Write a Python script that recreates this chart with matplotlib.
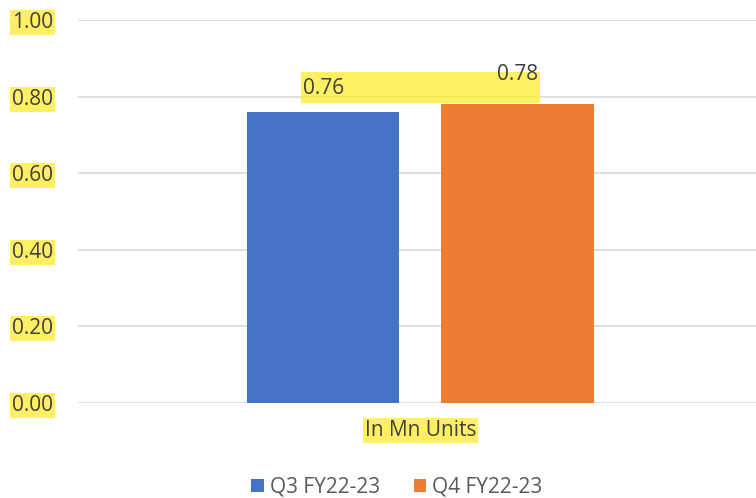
import matplotlib.pyplot as plt
from matplotlib.patches import Rectangle

categories = ["In Mn Units"]
series_names = ["Q3 FY22-23", "Q4 FY22-23"]
q3_values = [0.76]
q4_values = [0.78]
y_ticks = [0.0, 0.2, 0.4, 0.6, 0.8, 1.0]

blue = "#4472C4"
orange = "#ED7D31"
yellow = "#FFEB3B"

plt.rcParams['font.family'] = ['Open Sans', 'DejaVu Sans']

fig = plt.figure(figsize=(7.56, 4.98), dpi=100)
ax = fig.add_axes([78 / 756, 95 / 498, 678 / 756, 383 / 498])

x = list(range(len(categories)))
w = 0.45
off = 0.287
b1 = ax.bar([i - off for i in x], q3_values, w, color=blue, label=series_names[0], zorder=2)
b2 = ax.bar([i + off for i in x], q4_values, w, color=orange, label=series_names[1], zorder=2)

# one yellow highlight behind both data labels
x0 = b1[0].get_x() + b1[0].get_width() / 2 - 0.066
x1 = b2[0].get_x() + b2[0].get_width() / 2 + 0.066
ax.add_patch(Rectangle((x0, 0.783), x1 - x0, 0.082, facecolor=yellow, alpha=0.8,
                       edgecolor='none', zorder=3))
ax.text(b1[0].get_x() + b1[0].get_width() / 2, 0.822, f"{q3_values[0]:.2f}",
        ha='center', va='center', fontsize=15, color='#404040', zorder=4)
ax.text(b2[0].get_x() + b2[0].get_width() / 2, 0.857, f"{q4_values[0]:.2f}",
        ha='center', va='center', fontsize=15, color='#404040', zorder=4)

ax.set_ylim(0, 1.0)
ax.set_xlim(-1.01, 0.99)
ax.set_yticks(y_ticks)
ax.set_yticklabels([f"{v:.2f}" for v in y_ticks])
ax.set_xticks(x)
ax.set_xticklabels(categories)
ax.yaxis.grid(True, color='#D9D9D9', linewidth=1.2, zorder=0)
ax.set_axisbelow(True)
for s in ax.spines.values():
    s.set_visible(False)
ax.tick_params(axis='y', length=0, pad=18, labelsize=15, labelcolor='#404040')
ax.tick_params(axis='x', length=0, pad=12, labelsize=15, labelcolor='#404040')
for lbl in ax.get_yticklabels() + ax.get_xticklabels():
    lbl.set_bbox(dict(facecolor=yellow, edgecolor='none', pad=1.5, alpha=0.8))

fig.legend(handles=[b1, b2], loc='center', bbox_to_anchor=(0.525, 0.022), ncol=2,
           frameon=False, fontsize=15, labelcolor='#595959', handlelength=0.6,
           handleheight=0.6, handletextpad=0.3, columnspacing=1.6)

fig.savefig("out.png", dpi=100)
